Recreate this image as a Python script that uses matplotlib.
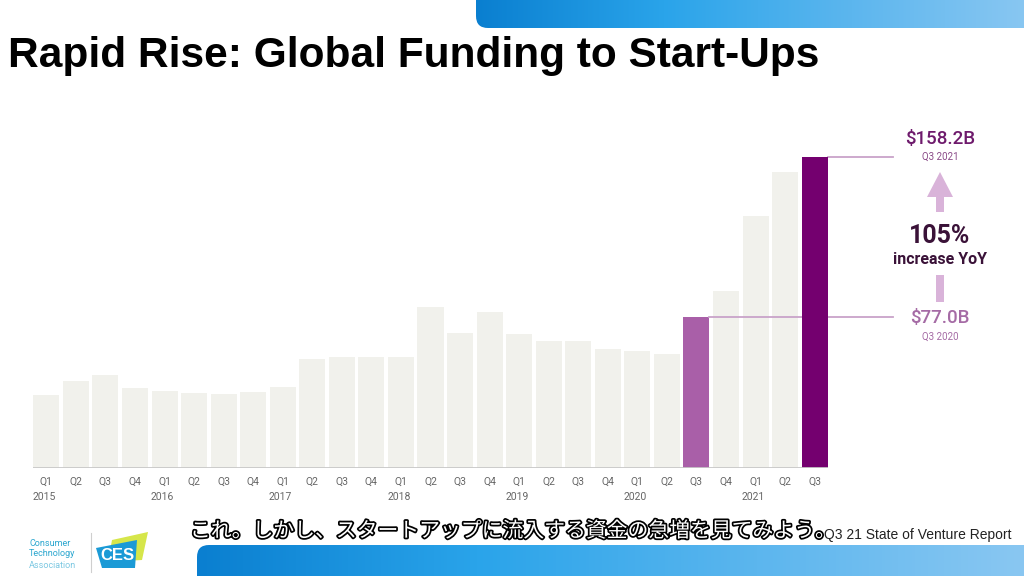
import numpy as np
import matplotlib
matplotlib.use("Agg")
import matplotlib.pyplot as plt
import matplotlib.patheffects as pe
from matplotlib.patches import FancyBboxPatch, Polygon
from matplotlib.colors import LinearSegmentedColormap

# données (milliards USD)
quarters = ["Q1", "Q2", "Q3", "Q4"] * 6 + ["Q1", "Q2", "Q3"]
years = ["2015", "2016", "2017", "2018", "2019", "2020", "2021"]
funding = [37.1, 44.3, 47.3, 40.7, 39.2, 38.1, 37.5, 38.7,
           41.2, 55.4, 56.3, 56.3, 56.3, 81.9, 68.7, 79.3,
           68.2, 64.6, 64.6, 60.5, 59.5, 58.0, 77.0, 90.0,
           128.2, 150.6, 158.2]
title = "Rapid Rise: Global Funding to Start-Ups"
subtitle = "これ。しかし、スタートアップに流入する資金の急増を見てみよう。"
source = "Q3 21 State of Venture Report"

W, H = 1024, 576
fig = plt.figure(figsize=(W / 100, H / 100), dpi=100)
fig.patch.set_facecolor("white")


def fx(x):
    return x / W


def fy(y):
    return 1 - y / H


# bandeaux bleus (haut et bas)
grad = np.linspace(0, 1, 256).reshape(1, -1)
blue = LinearSegmentedColormap.from_list("b", ["#0a7fd0", "#2aa4ea", "#5cb6ee", "#8cc8f2"])

bg = fig.add_axes([0, 0, 1, 1])
bg.set_xlim(0, W)
bg.set_ylim(H, 0)
bg.axis("off")
for (x0, y0, x1, y1) in [(476, -20, 1040, 28), (197, 545, 1040, 600)]:
    patch = FancyBboxPatch((x0, y0), x1 - x0, y1 - y0,
                           boxstyle="round,pad=0,rounding_size=12",
                           facecolor="none", edgecolor="none")
    bg.add_patch(patch)
    im = bg.imshow(grad, extent=[x0, x1, y1, y0], cmap=blue, aspect="auto")
    im.set_clip_path(patch)

# graphique principal
left, right, base, top = 33, 828, 468, 110
ax = fig.add_axes([fx(left), fy(base), (right - left) / W, (base - top) / H])
x = np.arange(len(funding))
colors = ["#f1f1ec"] * len(funding)
colors[22] = "#a95fa8"
colors[26] = "#74006f"
bars = ax.bar(x, funding, width=0.88, color=colors, zorder=2)
bars[26].set_zorder(4)
ax.set_xlim(-0.45, len(funding) - 0.55)
px_per_b = (base - 157) / funding[-1]
ax.set_ylim(0, (base - top) / px_per_b)
ax.axis("off")
ax.axhline(0, color="#c8c8c8", lw=2, zorder=5)

# lignes de repère
x_end = ax.get_xlim()[1] + 65 * (ax.get_xlim()[1] - ax.get_xlim()[0]) / (right - left)
ax.plot([22.44, x_end], [funding[22], funding[22]], color="#c9a3c9", lw=1.3,
        zorder=3, clip_on=False)
ax.plot([26.44, x_end], [funding[26], funding[26]], color="#c9a3c9", lw=1.3,
        zorder=3, clip_on=False)

# étiquettes de l'axe x
def qx(i):
    return fx(left) + (i + 0.45) / (len(funding) - 0.1) * (right - left) / W


for i, q in enumerate(quarters):
    fig.text(qx(i), fy(482), q, ha="center", va="center", fontsize=7.5,
             color="#666666", family="Roboto")
for j, yr in enumerate(years):
    fig.text(qx(j * 4) - 0.002, fy(497), yr, ha="center", va="center", fontsize=7.5,
             color="#666666", family="Roboto")

# titre
fig.text(fx(8), fy(56), title, ha="left", va="center", fontsize=30.5,
         fontweight="bold", family="Liberation Sans", color="black")

# annotations à droite
cx = 940
fig.text(fx(cx), fy(139), "$%.1fB" % funding[26], ha="center", va="center",
         fontsize=13.5, color="#6e1a6c", family="Roboto", fontweight="medium")
fig.text(fx(cx), fy(157), "Q3 2021", ha="center", va="center",
         fontsize=7, color="#8a4a88", family="Roboto")
fig.text(fx(cx), fy(236), "105%", ha="center", va="center",
         fontsize=18, color="#3a1238", family="Roboto", fontweight="bold")
fig.text(fx(cx), fy(259), "increase YoY", ha="center", va="center",
         fontsize=11.5, color="#3a1238", family="Roboto", fontweight="bold")
fig.text(fx(cx), fy(318), "$%.1fB" % funding[22], ha="center", va="center",
         fontsize=13.5, color="#a56ba5", family="Roboto", fontweight="medium")
fig.text(fx(cx), fy(337), "Q3 2020", ha="center", va="center",
         fontsize=7, color="#a56ba5", family="Roboto")

arrow_c = "#d9b3d9"
bg.add_patch(Polygon([[cx - 13, 197], [cx + 13, 197], [cx, 172]],
                     closed=True, facecolor=arrow_c, edgecolor="none"))
bg.add_patch(plt.Rectangle((cx - 4, 196), 8, 16, facecolor=arrow_c, edgecolor="none"))
bg.add_patch(plt.Rectangle((cx - 4, 275), 8, 27, facecolor=arrow_c, edgecolor="none"))

# source et logo
fig.text(fx(1012), fy(535), source, ha="right", va="center", fontsize=10,
         color="#222222", family="Liberation Sans")
for k, word in enumerate(["Consumer", "Technology", "Association"]):
    fig.text(fx(29), fy(543 + k * 11), word, ha="left", va="center", fontsize=6.5,
             color="#2aa6cf" if k < 2 else "#7cc8e2", family="Roboto")
bg.plot([91, 91], [533, 572], color="#cfcfcf", lw=0.8)
bg.add_patch(Polygon([[112, 540], [148, 532], [142, 560], [108, 562]],
                     closed=True, facecolor="#d6e64a", edgecolor="none"))
bg.add_patch(Polygon([[96, 548], [137, 540], [135, 568], [102, 568]],
                     closed=True, facecolor="#1b9ad6", edgecolor="none"))
fig.text(fx(117), fy(555), "CES", ha="center", va="center", fontsize=12,
         fontweight="bold", color="white", family="Liberation Sans")

# sous-titre japonais
fig.text(fx(190), fy(531), subtitle, ha="left", va="center", fontsize=15,
         color="white", family=["Noto Sans CJK JP", "DejaVu Sans"],
         path_effects=[pe.Stroke(linewidth=2.5, foreground="black"), pe.Normal()])

fig.savefig("out.png", dpi=100)
